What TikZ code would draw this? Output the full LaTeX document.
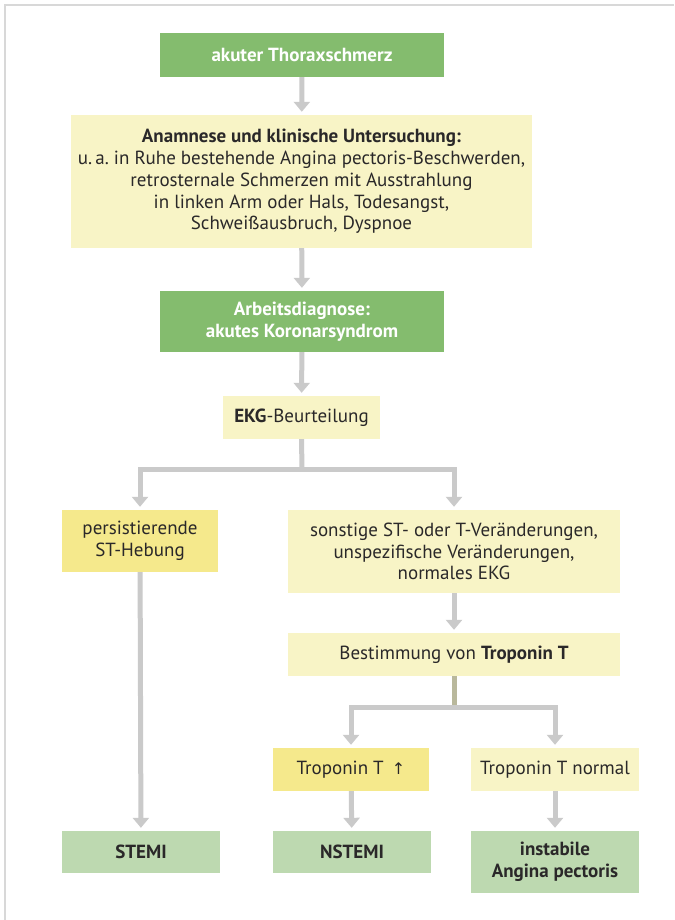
\documentclass[tikz,border=0pt]{standalone}
\usepackage{fontspec}
\setmainfont{PT Sans}
\newfontfamily\symfont{DejaVu Sans}
\usepackage{xcolor}
\usepackage{tikz}
\usetikzlibrary{arrows.meta}
\definecolor{dkgreen}{HTML}{84BC6E}
\definecolor{ltgreen}{HTML}{BDD9B0}
\definecolor{ltyellow}{HTML}{F8F4C6}
\definecolor{dkyellow}{HTML}{F5E98C}
\definecolor{arrgray}{HTML}{CACACA}
\definecolor{olivegray}{HTML}{B9B89C}
\definecolor{framegray}{HTML}{D8D8D8}
\definecolor{txt}{HTML}{2A2829}
\frenchspacing
\tikzset{
  box/.style={rectangle, inner sep=0pt, align=center, text=txt,
    font=\fontsize{19}{21.7}\selectfont},
  head/.style={box, fill=dkgreen, text=white, font=\fontsize{19}{21.7}\selectfont\bfseries},
  info/.style={box, fill=ltyellow},
  hit/.style={box, fill=dkyellow},
  result/.style={box, fill=ltgreen, font=\fontsize{19}{21.7}\selectfont\bfseries},
  arr/.style={arrgray, line width=5pt,
    -{Triangle[width=16pt,length=10pt]}, shorten >=3pt},
  line/.style={arrgray, line width=5pt}
}
\begin{document}
\begin{tikzpicture}[x=1pt,y=-1pt]
\useasboundingbox (0,0) rectangle (674,920);
\fill[white] (0,0) rectangle (674,920);
\draw[framegray, line width=2pt] (5,920) -- (5,5) -- (674,5);
% main column
\node[head, minimum width=284pt, minimum height=44pt] (pain) at (302,55) {akuter Thoraxschmerz};
\node[info, minimum width=461pt, minimum height=133pt] (exam) at (301.5,181.5)
  {\textbf{Anamnese und klinische Untersuchung:}\\
   u.\,a. in Ruhe bestehende Angina pectoris-Beschwerden,\\
   retrosternale Schmerzen mit Ausstrahlung\\
   in linken Arm oder Hals, Todesangst,\\
   Schweißausbruch, Dyspnoe};
\node[head, minimum width=284pt, minimum height=61pt] (acs) at (302,321.5)
  {Arbeitsdiagnose:\\akutes Koronarsyndrom};
\node[info, minimum width=157pt, minimum height=43pt] (ekg) at (301.5,417.5) {\textbf{EKG}-Beurteilung};
% branches
\node[hit, minimum width=156pt, minimum height=62pt] (st) at (140,541) {persistierende\\ST-Hebung};
\node[info, minimum width=332pt, minimum height=83pt] (other) at (454,551.5)
  {sonstige ST- oder T-Veränderungen,\\unspezifische Veränderungen,\\normales EKG};
\node[info, minimum width=332pt, minimum height=43pt] (trop) at (454,654.5) {Bestimmung von \textbf{Troponin T}};
\node[hit, minimum width=156pt, minimum height=43pt] (tropup) at (351,769.5) {Troponin T\, {\symfont\fontsize{16}{18}\selectfont ↑}};
\node[info, minimum width=168pt, minimum height=43pt] (tropok) at (555,769.5) {Troponin T normal};
% outcomes
\node[result, minimum width=158pt, minimum height=42pt] (stemi) at (141,852) {STEMI};
\node[result, minimum width=158pt, minimum height=42pt] (nstemi) at (352,852) {NSTEMI};
\node[result, minimum width=168pt, minimum height=62pt] (ua) at (555,862) {instabile\\Angina pectoris};
% connectors
\coordinate (split1) at (302,469);
\coordinate (split2) at (454,707);
\draw[arr] (pain) -- (exam);
\draw[arr] (exam) -- (acs);
\draw[arr] (acs) -- (ekg);
\draw[line] (ekg.south) -- (split1);
\draw[arr] (split1) -| (st.north);
\draw[arr] (split1) -| (other.north);
\draw[arr] (other) -- (trop);
\draw[olivegray, line width=5pt] (trop.south) -- (split2);
\draw[arr] (split2) -| (tropup.north);
\draw[arr] (split2) -| (tropok.north);
\draw[arr] (st) -- (stemi);
\draw[arr] (tropup) -- (nstemi);
\draw[arr] (tropok) -- (tropok |- ua.north);
\end{tikzpicture}
\end{document}
